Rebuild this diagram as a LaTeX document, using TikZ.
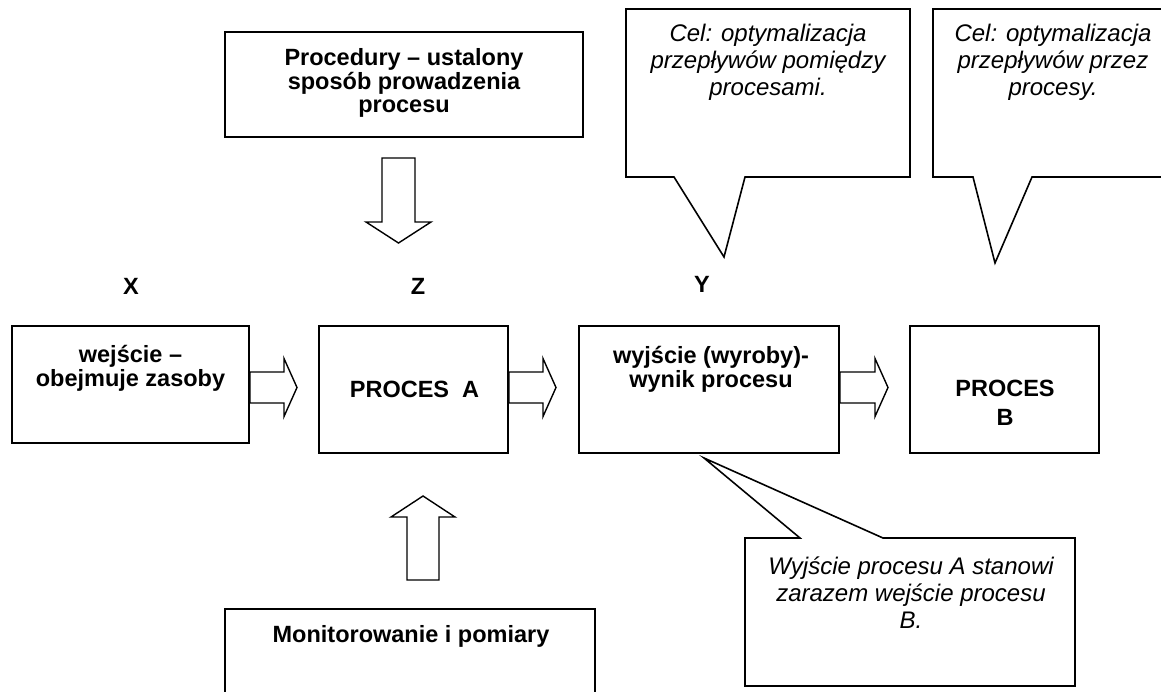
\documentclass[tikz,border=0pt]{standalone}
\usepackage{fontspec}
\setmainfont{Liberation Sans}
\usetikzlibrary{calc}

% Block arrows: #1 = start of the shaft, #2 = tip
\newcommand\harrow[2]{%
  \draw[blk] let \p1=#1, \p2=#2 in
    (\x1,\y1+15.5pt) -- (\x2-13pt,\y1+15.5pt) -- (\x2-13pt,\y1+29pt) -- (\x2,\y1)
    -- (\x2-13pt,\y1-29pt) -- (\x2-13pt,\y1-15.5pt) -- (\x1,\y1-15.5pt) -- cycle;}
\newcommand\darrow[2]{%
  \draw[blk] let \p1=#1, \p2=#2 in
    (\x1-16.5pt,\y1) -- (\x1-16.5pt,\y2+21pt) -- (\x1-32.5pt,\y2+21pt) -- (\x1,\y2)
    -- (\x1+32.5pt,\y2+21pt) -- (\x1+16.5pt,\y2+21pt) -- (\x1+16.5pt,\y1) -- cycle;}
\newcommand\uarrow[2]{%
  \draw[blk] let \p1=#1, \p2=#2 in
    (\x1-16pt,\y1) -- (\x1-16pt,\y2-21pt) -- (\x1-32pt,\y2-21pt) -- (\x1,\y2)
    -- (\x1+32pt,\y2-21pt) -- (\x1+16pt,\y2-21pt) -- (\x1+16pt,\y1) -- cycle;}

\tikzset{
  box/.style={draw, line width=1.7pt, rectangle, inner sep=0pt},
  blk/.style={draw, line width=1.4pt, fill=white, line join=miter},
  call/.style={draw, line width=1.6pt, fill=white, line join=miter},
  btext/.style={font=\fontsize{23.5}{23.5}\selectfont\bfseries, align=center, inner sep=0pt},
  itext/.style={font=\fontsize{24}{27}\selectfont\itshape, align=center, inner sep=0pt},
}

\begin{document}
\begin{tikzpicture}[x=1pt, y=-1pt]
\useasboundingbox (0,0) rectangle (1161,691);
\clip (0,0) rectangle (1161,691);
\fill[white] (0,0) rectangle (1161,691);

% procedure box and its arrow into the process
\node[box, minimum width=358pt, minimum height=105pt] (proc) at (404,84.5) {};
\node[btext] (proct) at (404,83) {Procedury – ustalony\\sposób prowadzenia\\procesu};
\coordinate (dstart) at (398.5,158);
\coordinate (dtip) at (398.5,243);
\darrow{(dstart)}{(dtip)}

% goal callouts
\draw[call] (626,9) -- (910,9) -- (910,177) -- (745,177) -- (724,257) -- (674,177) -- (626,177) -- cycle;
\node[itext] (goal1) at (768,62) {Cel: optymalizacja\\przepływów pomiędzy\\procesami.};
\draw[call] (933,9) -- (1175,9) -- (1175,177) -- (1032,177) -- (995,263) -- (973,177) -- (933,177) -- cycle;
\node[itext] (goal2) at (1053,62) {Cel: optymalizacja\\przepływów przez\\procesy.};

% column letters
\node[btext] (lx) at (131,286) {X};
\node[btext] (lz) at (418,286) {Z};
\node[btext] (ly) at (702,284) {Y};

% the process chain
\node[box, minimum width=237pt, minimum height=117pt] (xbox) at (130.5,384.5) {};
\node[btext] (xt) at (130.5,368.5) {wejście –\\obejmuje zasoby};
\node[box, minimum width=189pt, minimum height=127pt] (abox) at (413.5,389.5) {};
\node[btext] (at) at (414.5,389) {PROCES\ \ A};
\node[box, minimum width=260pt, minimum height=127pt] (ybox) at (709,389.5) {};
\node[btext] (yt) at (711,369.5) {wyjście (wyroby)-\\wynik procesu};
\node[box, minimum width=189pt, minimum height=127pt] (bbox) at (1004.5,389.5) {};
\node[btext, font=\fontsize{23.5}{29}\selectfont\bfseries] (bt) at (1005,403) {PROCES\\B};

\coordinate (t1) at (297,387.5);
\coordinate (t2) at (556,387.5);
\coordinate (t3) at (888,387.5);
\harrow{(xbox.east |- t1)}{(t1)}
\harrow{(abox.east |- t2)}{(t2)}
\harrow{(ybox.east |- t3)}{(t3)}

% output callout
\draw[call] (745,538) -- (800,538) -- (704,458) -- (883,538) -- (1075,538) -- (1075,686) -- (745,686) -- cycle;
\node[itext] (note) at (911,593) {Wyjście procesu A stanowi\\zarazem wejście procesu\\B.};

% monitoring box and its arrow into the process
\coordinate (ustart) at (423,580);
\coordinate (utip) at (423,496);
\uarrow{(ustart)}{(utip)}
\node[box, minimum width=370pt, minimum height=111pt] (mon) at (410,664.5) {};
\node[btext] (mont) at (411,636) {Monitorowanie i pomiary};
\end{tikzpicture}
\end{document}
